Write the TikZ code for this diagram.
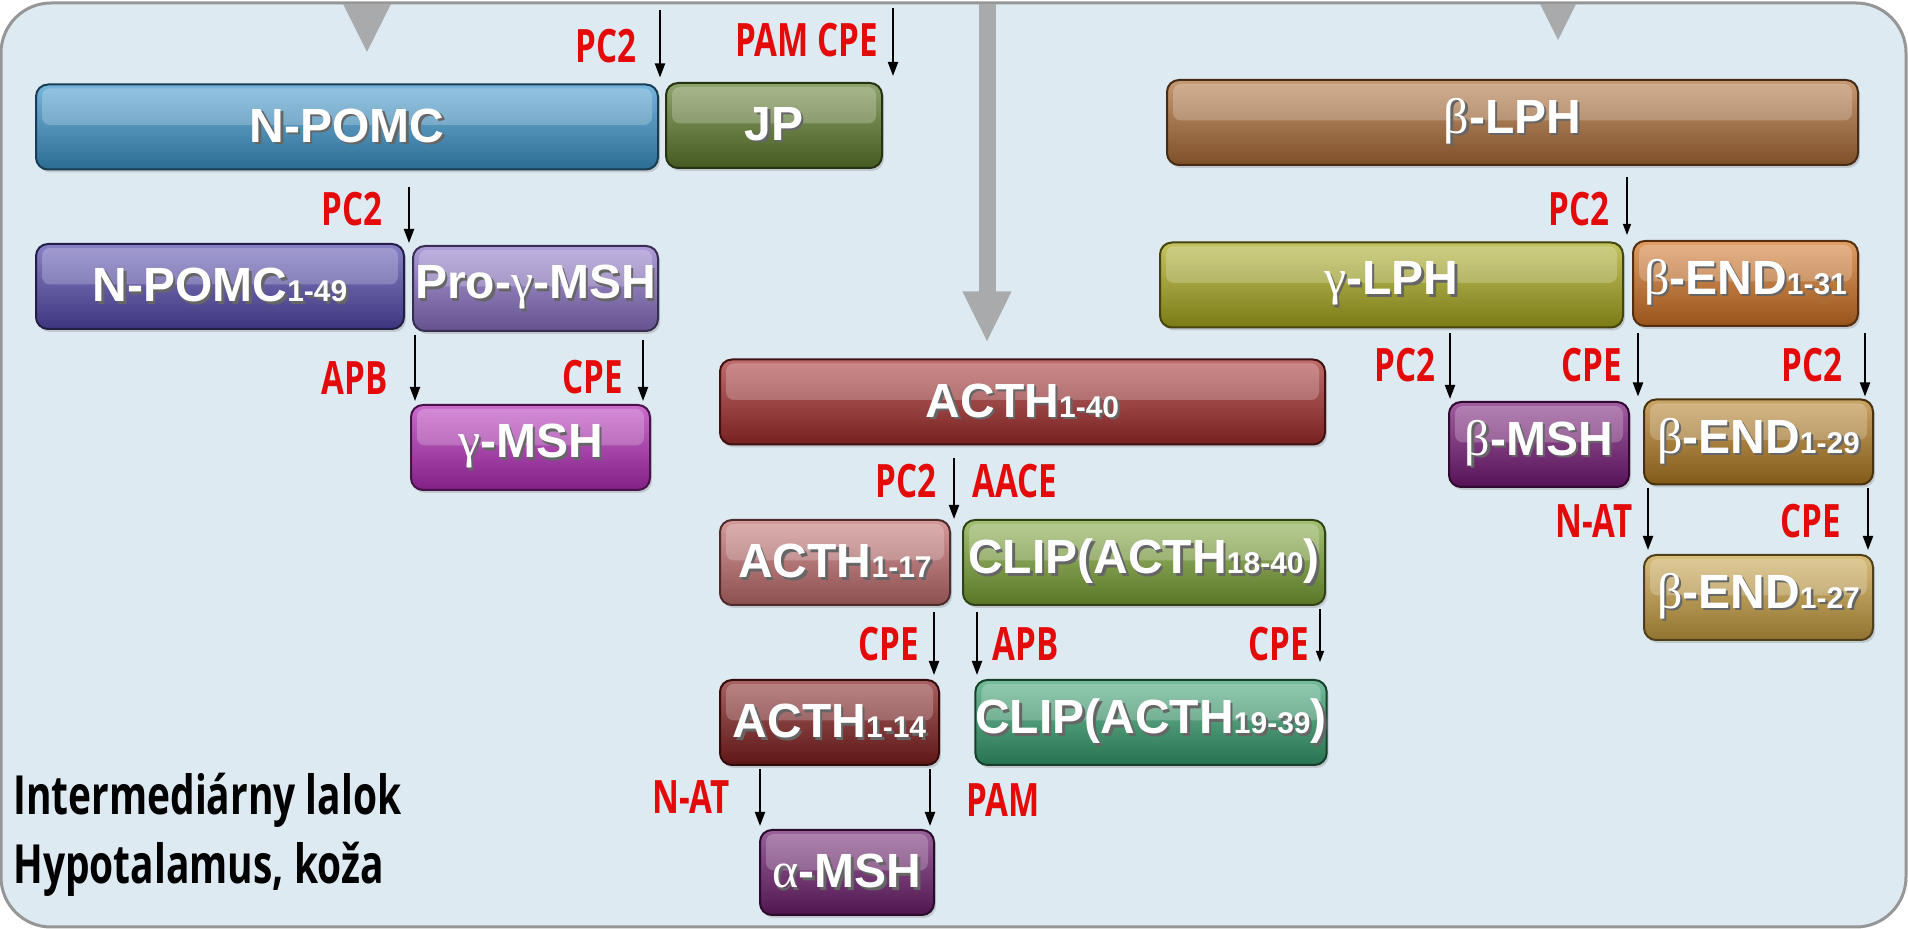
\documentclass[tikz,border=0pt]{standalone}
\usepackage{fontspec}
\setmainfont{Liberation Sans}
\newfontfamily\enzfont[FakeStretch=0.72]{Open Sans}
\newfontfamily\grkfont{Liberation Serif}
\usetikzlibrary{arrows.meta,shadows}

\definecolor{panel}{RGB}{222,234,242}
\definecolor{frameline}{RGB}{150,150,150}
\definecolor{feedgray}{RGB}{168,170,172}
\definecolor{enzred}{RGB}{228,10,10}
\definecolor{npomcC}{RGB}{60,150,205}
\definecolor{jpC}{RGB}{95,125,45}
\definecolor{npomcaC}{RGB}{85,75,175}
\definecolor{progC}{RGB}{140,115,200}
\definecolor{gmshC}{RGB}{180,45,185}
\definecolor{acthaC}{RGB}{165,45,45}
\definecolor{acthbC}{RGB}{195,110,110}
\definecolor{clipaC}{RGB}{125,165,55}
\definecolor{acthcC}{RGB}{130,30,30}
\definecolor{clipbC}{RGB}{55,160,110}
\definecolor{amshC}{RGB}{110,30,110}
\definecolor{blphC}{RGB}{175,110,55}
\definecolor{glphC}{RGB}{170,170,30}
\definecolor{bendaC}{RGB}{210,115,35}
\definecolor{bmshC}{RGB}{120,25,120}
\definecolor{bendbC}{RGB}{180,125,35}
\definecolor{bendcC}{RGB}{200,160,65}

\newcommand{\shtext}[1]{\makebox[0pt][l]{\kern1.2pt\raisebox{-1.2pt}{\color{black!60}#1}}#1}
\newcommand{\pepsub}[1]{{\fontsize{15pt}{16pt}\selectfont #1}}
\newcommand{\grk}[1]{{\grkfont\mdseries\fontsize{25pt}{26pt}\selectfont #1}}

\tikzset{
  pep/.style 2 args={rounded corners=6pt, minimum width=#1, minimum height=42.5pt,
    inner sep=0pt, top color=#2!70!white, bottom color=#2!72!black,
    draw=#2!40!black, line width=1pt, text=white,
    font=\bfseries\fontsize{24pt}{25pt}\selectfont,
    drop shadow={shadow xshift=1pt, shadow yshift=-1.5pt, opacity=0.3},
    path picture={\fill[white, opacity=0.22, rounded corners=4pt]
      ([xshift=3pt,yshift=-2pt]path picture bounding box.north west) rectangle
      ([xshift=-3pt,yshift=1pt]path picture bounding box.east);}},
  enz/.style={text=enzred, inner sep=0pt, font=\enzfont\bfseries\fontsize{23pt}{24pt}\selectfont},
  legend/.style={inner sep=0pt, font=\enzfont\bfseries\fontsize{27pt}{28pt}\selectfont},
  cut/.style={-{Triangle[length=7pt,width=5pt]}, line width=1pt},
  thincut/.style={-{Triangle[length=5.5pt,width=4pt]}, line width=0.6pt},
  feed/.style={draw=feedgray, line width=8.5pt, -{Triangle[length=25.5pt,width=22.5pt]}},
}

\begin{document}
\begin{tikzpicture}[x=0.5pt,y=-0.5pt]
\useasboundingbox (0,0) rectangle (1908,929);
% panel
\draw[fill=panel, draw=frameline, line width=1.5pt, rounded corners=25pt] (1,3) rectangle (1906,927);
\fill[feedgray] (343,4) -- (391,4) -- (367,52) -- cycle;
\fill[feedgray] (1540,4) -- (1576,4) -- (1558,40) -- cycle;

% N-POMC branch
\node[pep={311pt}{npomcC}] (npomc) at (347,127) {\shtext{N-POMC}};
\node[pep={108pt}{jpC}] (jp) at (774,125.5) {\shtext{JP}};
\node[pep={184pt}{npomcaC}] (npomca) at (220,286.5) {\shtext{N-POMC\pepsub{1-49}}};
\node[pep={122.5pt}{progC}] (progmsh) at (535.5,288.5) {\shtext{Pro-\grk{γ}-MSH}};
\node[pep={119.5pt}{gmshC}] (gmsh) at (530.5,447.5) {\shtext{\grk{γ}-MSH}};

% ACTH branch
\node[pep={302.5pt}{acthaC}] (actha) at (1022.5,402) {\shtext{ACTH\pepsub{1-40}}};
\node[pep={115pt}{acthbC}] (acthb) at (835,562.5) {\shtext{ACTH\pepsub{1-17}}};
\node[pep={181pt}{clipaC}] (clipa) at (1144,562.5) {\shtext{CLIP(ACTH\pepsub{18-40})}};
\node[pep={109.5pt}{acthcC}] (acthc) at (829.5,722.5) {\shtext{ACTH\pepsub{1-14}}};
\node[pep={174pt}{clipbC}] (clipb) at (1151,722.5) {\shtext{CLIP(ACTH\pepsub{19-39})}};
\node[pep={87pt}{amshC}] (amsh) at (847,872.5) {\shtext{\grk{α}-MSH}};

% beta-LPH branch
\node[pep={345.5pt}{blphC}] (blph) at (1512.5,122.5) {\shtext{\grk{β}-LPH}};
\node[pep={231.5pt}{glphC}] (glph) at (1391.5,285) {\shtext{\grk{γ}-LPH}};
\node[pep={112.5pt}{bendaC}] (benda) at (1745.5,283.5) {\shtext{\grk{β}-END\pepsub{1-31}}};
\node[pep={90pt}{bmshC}] (bmsh) at (1539,444.5) {\shtext{\grk{β}-MSH}};
\node[pep={114.5pt}{bendbC}] (bendb) at (1758.5,442) {\shtext{\grk{β}-END\pepsub{1-29}}};
\node[pep={114.5pt}{bendcC}] (bendc) at (1758.5,597.5) {\shtext{\grk{β}-END\pepsub{1-27}}};

% gray feed arrow
\coordinate (feedtop) at (987,4);
\draw[feed, shorten >=8pt] (feedtop) -- (feedtop |- actha.north);

% cleavage arrows
\coordinate (k1) at (660,10);   \coordinate (k2) at (893,8);
\coordinate (k3) at (409,187);  \coordinate (k4) at (415,335);
\coordinate (k5) at (643,340);  \coordinate (k6) at (954,458);
\coordinate (k7) at (934,612);  \coordinate (k8) at (977,612);
\coordinate (k9) at (1320,609); \coordinate (k10) at (760,769);
\coordinate (k11) at (930,769); \coordinate (k12) at (1627,177);
\coordinate (k13) at (1450,333); \coordinate (k14) at (1638,333);
\coordinate (k15) at (1865,333); \coordinate (k16) at (1648,488);
\coordinate (k17) at (1868,488);
\draw[cut, shorten >=3pt] (k1) -- (k1 |- npomc.north);
\draw[cut, shorten >=3pt] (k2) -- (k2 |- jp.north);
\draw[cut] (k3) -- (k3 |- npomca.north);
\draw[cut, shorten >=1.5pt] (k4) -- (k4 |- gmsh.north);
\draw[cut, shorten >=1.5pt] (k5) -- (k5 |- gmsh.north);
\draw[cut] (k6) -- (k6 |- acthb.north);
\draw[cut, shorten >=2pt] (k7) -- (k7 |- acthc.north);
\draw[cut, shorten >=2pt] (k8) -- (k8 |- clipb.north);
\draw[thincut, shorten >=8.5pt] (k9) -- (k9 |- clipb.north);
\draw[cut, shorten >=1.5pt] (k10) -- (k10 |- amsh.north);
\draw[cut, shorten >=1.5pt] (k11) -- (k11 |- amsh.north);
\draw[thincut, shorten >=2.5pt] (k12) -- (k12 |- benda.north);
\draw[cut, shorten >=1pt] (k13) -- (k13 |- bmsh.north);
\draw[cut, shorten >=1pt] (k14) -- (k14 |- bendb.north);
\draw[cut, shorten >=1pt] (k15) -- (k15 |- bendb.north);
\draw[cut, shorten >=2pt] (k16) -- (k16 |- bendc.north);
\draw[cut, shorten >=2pt] (k17) -- (k17 |- bendc.north);

% enzymes
\node[enz, anchor=east] (e1) at (637,46) {PC2};
\node[enz, anchor=east] (e2) at (878,40) {PAM CPE};
\node[enz, anchor=east] (e3) at (383,209) {PC2};
\node[enz, anchor=east] (e4) at (388,378) {APB};
\node[enz, anchor=east] (e5) at (623,377) {CPE};
\node[enz, anchor=east] (e6) at (937,481) {PC2};
\node[enz, anchor=west] (e7) at (972,481) {AACE};
\node[enz, anchor=east] (e8) at (919,644) {CPE};
\node[enz, anchor=west] (e9) at (992,644) {APB};
\node[enz, anchor=east] (e10) at (1309,644) {CPE};
\node[enz, anchor=east] (e11) at (730,797) {N-AT};
\node[enz, anchor=west] (e12) at (966,800) {PAM};
\node[enz, anchor=east] (e13) at (1610,209) {PC2};
\node[enz, anchor=east] (e14) at (1436,365) {PC2};
\node[enz, anchor=east] (e15) at (1622,365) {CPE};
\node[enz, anchor=east] (e16) at (1843,365) {PC2};
\node[enz, anchor=east] (e17) at (1633,521) {N-AT};
\node[enz, anchor=east] (e18) at (1841,521) {CPE};

% legend
\node[legend, anchor=base west] (leg1) at (13,815) {Intermediárny lalok};
\node[legend, anchor=base west] (leg2) at (13,884) {Hypotalamus, koža};
\end{tikzpicture}
\end{document}
